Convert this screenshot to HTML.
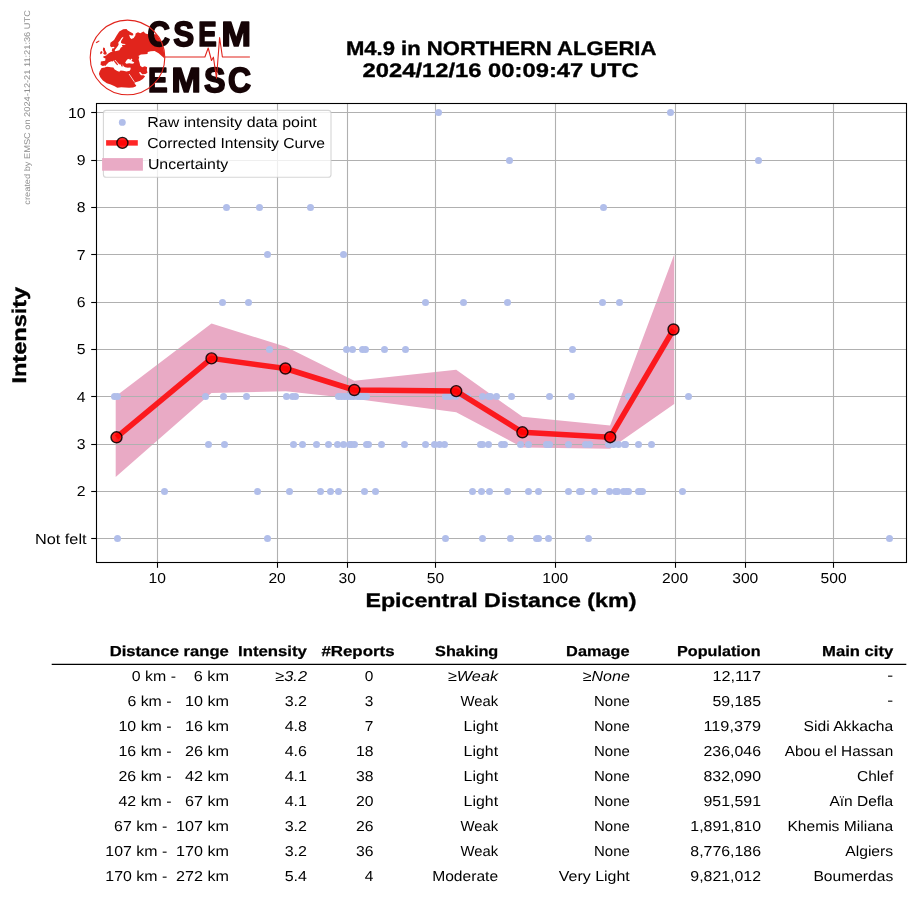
<!DOCTYPE html>
<html><head><meta charset="utf-8"><title>M4.9 in NORTHERN ALGERIA</title>
<style>html,body{margin:0;padding:0;background:#fff}svg{display:block;will-change:transform}</style></head>
<body>
<svg width="915" height="905" viewBox="0 0 915 905" font-family="'Liberation Sans', sans-serif" text-rendering="geometricPrecision">
<rect width="915" height="905" fill="#fff"/>
<polygon fill="#e9aac5" points="115.7,396.3 211.5,323.6 285.8,346.7 354.3,380.7 456.2,369.7 522.5,416.8 610.1,425.5 674.2,254.5 674.2,404 610.1,448.7 522.5,447.5 456.2,412.3 354.3,398.8 285.8,391.2 211.5,393 115.7,477.0"/>
<g stroke="#b0b0b0" stroke-width="1.1">
<line x1="157.5" y1="103.5" x2="157.5" y2="562.5"/>
<line x1="277.5" y1="103.5" x2="277.5" y2="562.5"/>
<line x1="347.5" y1="103.5" x2="347.5" y2="562.5"/>
<line x1="435.5" y1="103.5" x2="435.5" y2="562.5"/>
<line x1="555.5" y1="103.5" x2="555.5" y2="562.5"/>
<line x1="675.5" y1="103.5" x2="675.5" y2="562.5"/>
<line x1="745.5" y1="103.5" x2="745.5" y2="562.5"/>
<line x1="833.5" y1="103.5" x2="833.5" y2="562.5"/>
<line x1="96.5" y1="538.5" x2="906.5" y2="538.5"/>
<line x1="96.5" y1="491.5" x2="906.5" y2="491.5"/>
<line x1="96.5" y1="444.5" x2="906.5" y2="444.5"/>
<line x1="96.5" y1="396.5" x2="906.5" y2="396.5"/>
<line x1="96.5" y1="349.5" x2="906.5" y2="349.5"/>
<line x1="96.5" y1="302.5" x2="906.5" y2="302.5"/>
<line x1="96.5" y1="254.5" x2="906.5" y2="254.5"/>
<line x1="96.5" y1="207.5" x2="906.5" y2="207.5"/>
<line x1="96.5" y1="160.5" x2="906.5" y2="160.5"/>
<line x1="96.5" y1="112.5" x2="906.5" y2="112.5"/>
</g>
<g fill="#b1beea">
<circle cx="438.5" cy="112.5" r="3.5"/>
<circle cx="670.5" cy="112.5" r="3.5"/>
<circle cx="509.5" cy="160.5" r="3.5"/>
<circle cx="758.5" cy="160.5" r="3.5"/>
<circle cx="226.5" cy="207.5" r="3.5"/>
<circle cx="259.5" cy="207.5" r="3.5"/>
<circle cx="310.5" cy="207.5" r="3.5"/>
<circle cx="603.5" cy="207.5" r="3.5"/>
<circle cx="267.5" cy="254.5" r="3.5"/>
<circle cx="343.5" cy="254.5" r="3.5"/>
<circle cx="222.5" cy="302.5" r="3.5"/>
<circle cx="248.5" cy="302.5" r="3.5"/>
<circle cx="425.5" cy="302.5" r="3.5"/>
<circle cx="463.5" cy="302.5" r="3.5"/>
<circle cx="507.5" cy="302.5" r="3.5"/>
<circle cx="602.5" cy="302.5" r="3.5"/>
<circle cx="619.5" cy="302.5" r="3.5"/>
<circle cx="269.5" cy="349.5" r="3.5"/>
<circle cx="346.5" cy="349.5" r="3.5"/>
<circle cx="352.5" cy="349.5" r="3.5"/>
<circle cx="362.5" cy="349.5" r="3.5"/>
<circle cx="365.5" cy="349.5" r="3.5"/>
<circle cx="384.5" cy="349.5" r="3.5"/>
<circle cx="405.5" cy="349.5" r="3.5"/>
<circle cx="572.5" cy="349.5" r="3.5"/>
<circle cx="114.5" cy="396.5" r="3.5"/>
<circle cx="117.5" cy="396.5" r="3.5"/>
<circle cx="205.5" cy="396.5" r="3.5"/>
<circle cx="223.5" cy="396.5" r="3.5"/>
<circle cx="246.5" cy="396.5" r="3.5"/>
<circle cx="286.5" cy="396.5" r="3.5"/>
<circle cx="292.5" cy="396.5" r="3.5"/>
<circle cx="295.5" cy="396.5" r="3.5"/>
<circle cx="338.5" cy="396.5" r="3.5"/>
<circle cx="341.5" cy="396.5" r="3.5"/>
<circle cx="344.5" cy="396.5" r="3.5"/>
<circle cx="347.5" cy="396.5" r="3.5"/>
<circle cx="350.5" cy="396.5" r="3.5"/>
<circle cx="353.5" cy="396.5" r="3.5"/>
<circle cx="357.5" cy="396.5" r="3.5"/>
<circle cx="360.5" cy="396.5" r="3.5"/>
<circle cx="363.5" cy="396.5" r="3.5"/>
<circle cx="366.5" cy="396.5" r="3.5"/>
<circle cx="445.5" cy="396.5" r="3.5"/>
<circle cx="449.5" cy="396.5" r="3.5"/>
<circle cx="455.5" cy="396.5" r="3.5"/>
<circle cx="463.5" cy="396.5" r="3.5"/>
<circle cx="467.5" cy="396.5" r="3.5"/>
<circle cx="482.5" cy="396.5" r="3.5"/>
<circle cx="488.5" cy="396.5" r="3.5"/>
<circle cx="490.5" cy="396.5" r="3.5"/>
<circle cx="496.5" cy="396.5" r="3.5"/>
<circle cx="511.5" cy="396.5" r="3.5"/>
<circle cx="549.5" cy="396.5" r="3.5"/>
<circle cx="571.5" cy="396.5" r="3.5"/>
<circle cx="628.5" cy="396.5" r="3.5"/>
<circle cx="688.5" cy="396.5" r="3.5"/>
<circle cx="208.5" cy="444.5" r="3.5"/>
<circle cx="224.5" cy="444.5" r="3.5"/>
<circle cx="293.5" cy="444.5" r="3.5"/>
<circle cx="302.5" cy="444.5" r="3.5"/>
<circle cx="316.5" cy="444.5" r="3.5"/>
<circle cx="328.5" cy="444.5" r="3.5"/>
<circle cx="337.5" cy="444.5" r="3.5"/>
<circle cx="343.5" cy="444.5" r="3.5"/>
<circle cx="349.5" cy="444.5" r="3.5"/>
<circle cx="351.5" cy="444.5" r="3.5"/>
<circle cx="354.5" cy="444.5" r="3.5"/>
<circle cx="366.5" cy="444.5" r="3.5"/>
<circle cx="368.5" cy="444.5" r="3.5"/>
<circle cx="381.5" cy="444.5" r="3.5"/>
<circle cx="404.5" cy="444.5" r="3.5"/>
<circle cx="425.5" cy="444.5" r="3.5"/>
<circle cx="434.5" cy="444.5" r="3.5"/>
<circle cx="439.5" cy="444.5" r="3.5"/>
<circle cx="444.5" cy="444.5" r="3.5"/>
<circle cx="480.5" cy="444.5" r="3.5"/>
<circle cx="482.5" cy="444.5" r="3.5"/>
<circle cx="488.5" cy="444.5" r="3.5"/>
<circle cx="501.5" cy="444.5" r="3.5"/>
<circle cx="504.5" cy="444.5" r="3.5"/>
<circle cx="520.5" cy="444.5" r="3.5"/>
<circle cx="528.5" cy="444.5" r="3.5"/>
<circle cx="546.5" cy="444.5" r="3.5"/>
<circle cx="549.5" cy="444.5" r="3.5"/>
<circle cx="568.5" cy="444.5" r="3.5"/>
<circle cx="585.5" cy="444.5" r="3.5"/>
<circle cx="589.5" cy="444.5" r="3.5"/>
<circle cx="608.5" cy="444.5" r="3.5"/>
<circle cx="613.5" cy="444.5" r="3.5"/>
<circle cx="618.5" cy="444.5" r="3.5"/>
<circle cx="624.5" cy="444.5" r="3.5"/>
<circle cx="625.5" cy="444.5" r="3.5"/>
<circle cx="638.5" cy="444.5" r="3.5"/>
<circle cx="651.5" cy="444.5" r="3.5"/>
<circle cx="164.5" cy="491.5" r="3.5"/>
<circle cx="257.5" cy="491.5" r="3.5"/>
<circle cx="289.5" cy="491.5" r="3.5"/>
<circle cx="320.5" cy="491.5" r="3.5"/>
<circle cx="330.5" cy="491.5" r="3.5"/>
<circle cx="338.5" cy="491.5" r="3.5"/>
<circle cx="364.5" cy="491.5" r="3.5"/>
<circle cx="375.5" cy="491.5" r="3.5"/>
<circle cx="472.5" cy="491.5" r="3.5"/>
<circle cx="481.5" cy="491.5" r="3.5"/>
<circle cx="489.5" cy="491.5" r="3.5"/>
<circle cx="507.5" cy="491.5" r="3.5"/>
<circle cx="528.5" cy="491.5" r="3.5"/>
<circle cx="538.5" cy="491.5" r="3.5"/>
<circle cx="568.5" cy="491.5" r="3.5"/>
<circle cx="579.5" cy="491.5" r="3.5"/>
<circle cx="581.5" cy="491.5" r="3.5"/>
<circle cx="594.5" cy="491.5" r="3.5"/>
<circle cx="609.5" cy="491.5" r="3.5"/>
<circle cx="615.5" cy="491.5" r="3.5"/>
<circle cx="617.5" cy="491.5" r="3.5"/>
<circle cx="623.5" cy="491.5" r="3.5"/>
<circle cx="626.5" cy="491.5" r="3.5"/>
<circle cx="628.5" cy="491.5" r="3.5"/>
<circle cx="638.5" cy="491.5" r="3.5"/>
<circle cx="640.5" cy="491.5" r="3.5"/>
<circle cx="642.5" cy="491.5" r="3.5"/>
<circle cx="682.5" cy="491.5" r="3.5"/>
<circle cx="117.5" cy="538.5" r="3.5"/>
<circle cx="267.5" cy="538.5" r="3.5"/>
<circle cx="445.5" cy="538.5" r="3.5"/>
<circle cx="482.5" cy="538.5" r="3.5"/>
<circle cx="510.5" cy="538.5" r="3.5"/>
<circle cx="536.5" cy="538.5" r="3.5"/>
<circle cx="538.5" cy="538.5" r="3.5"/>
<circle cx="548.5" cy="538.5" r="3.5"/>
<circle cx="588.5" cy="538.5" r="3.5"/>
<circle cx="889.5" cy="538.5" r="3.5"/>
</g>
<polyline fill="none" stroke="#ff0000" stroke-opacity="0.85" stroke-width="5.5" stroke-linejoin="round" points="116.5,437.3 211.5,358.4 285.4,368.5 354.3,390.0 456.2,391.1 522.4,432.3 610.2,437.2 673.5,329.5"/>
<circle cx="116.5" cy="437.3" r="5.5" fill="#ff0000" fill-opacity="0.85" stroke="#000" stroke-opacity="0.85" stroke-width="1.4"/>
<circle cx="211.5" cy="358.4" r="5.5" fill="#ff0000" fill-opacity="0.85" stroke="#000" stroke-opacity="0.85" stroke-width="1.4"/>
<circle cx="285.4" cy="368.5" r="5.5" fill="#ff0000" fill-opacity="0.85" stroke="#000" stroke-opacity="0.85" stroke-width="1.4"/>
<circle cx="354.3" cy="390.0" r="5.5" fill="#ff0000" fill-opacity="0.85" stroke="#000" stroke-opacity="0.85" stroke-width="1.4"/>
<circle cx="456.2" cy="391.1" r="5.5" fill="#ff0000" fill-opacity="0.85" stroke="#000" stroke-opacity="0.85" stroke-width="1.4"/>
<circle cx="522.4" cy="432.3" r="5.5" fill="#ff0000" fill-opacity="0.85" stroke="#000" stroke-opacity="0.85" stroke-width="1.4"/>
<circle cx="610.2" cy="437.2" r="5.5" fill="#ff0000" fill-opacity="0.85" stroke="#000" stroke-opacity="0.85" stroke-width="1.4"/>
<circle cx="673.5" cy="329.5" r="5.5" fill="#ff0000" fill-opacity="0.85" stroke="#000" stroke-opacity="0.85" stroke-width="1.4"/>
<rect x="96.5" y="103.5" width="810.0" height="459.0" fill="none" stroke="#000" stroke-width="1.1"/>
<g stroke="#000" stroke-width="1.1">
<line x1="157.5" y1="562.5" x2="157.5" y2="567.8"/>
<line x1="277.5" y1="562.5" x2="277.5" y2="567.8"/>
<line x1="347.5" y1="562.5" x2="347.5" y2="567.8"/>
<line x1="435.5" y1="562.5" x2="435.5" y2="567.8"/>
<line x1="555.5" y1="562.5" x2="555.5" y2="567.8"/>
<line x1="675.5" y1="562.5" x2="675.5" y2="567.8"/>
<line x1="745.5" y1="562.5" x2="745.5" y2="567.8"/>
<line x1="833.5" y1="562.5" x2="833.5" y2="567.8"/>
<line x1="91.2" y1="538.5" x2="96.5" y2="538.5"/>
<line x1="91.2" y1="491.5" x2="96.5" y2="491.5"/>
<line x1="91.2" y1="444.5" x2="96.5" y2="444.5"/>
<line x1="91.2" y1="396.5" x2="96.5" y2="396.5"/>
<line x1="91.2" y1="349.5" x2="96.5" y2="349.5"/>
<line x1="91.2" y1="302.5" x2="96.5" y2="302.5"/>
<line x1="91.2" y1="254.5" x2="96.5" y2="254.5"/>
<line x1="91.2" y1="207.5" x2="96.5" y2="207.5"/>
<line x1="91.2" y1="160.5" x2="96.5" y2="160.5"/>
<line x1="91.2" y1="112.5" x2="96.5" y2="112.5"/>
</g>
<text x="148.6" y="582.9" font-size="14.4" text-anchor="start" font-weight="normal" font-style="normal" fill="#000" textLength="17.4" lengthAdjust="spacingAndGlyphs">10</text>
<text x="268.4" y="582.9" font-size="14.4" text-anchor="start" font-weight="normal" font-style="normal" fill="#000" textLength="17.4" lengthAdjust="spacingAndGlyphs">20</text>
<text x="338.5" y="582.9" font-size="14.4" text-anchor="start" font-weight="normal" font-style="normal" fill="#000" textLength="17.4" lengthAdjust="spacingAndGlyphs">30</text>
<text x="426.8" y="582.9" font-size="14.4" text-anchor="start" font-weight="normal" font-style="normal" fill="#000" textLength="17.4" lengthAdjust="spacingAndGlyphs">50</text>
<text x="542.2" y="582.9" font-size="14.4" text-anchor="start" font-weight="normal" font-style="normal" fill="#000" textLength="26.1" lengthAdjust="spacingAndGlyphs">100</text>
<text x="662.1" y="582.9" font-size="14.4" text-anchor="start" font-weight="normal" font-style="normal" fill="#000" textLength="26.1" lengthAdjust="spacingAndGlyphs">200</text>
<text x="732.2" y="582.9" font-size="14.4" text-anchor="start" font-weight="normal" font-style="normal" fill="#000" textLength="26.1" lengthAdjust="spacingAndGlyphs">300</text>
<text x="820.5" y="582.9" font-size="14.4" text-anchor="start" font-weight="normal" font-style="normal" fill="#000" textLength="26.1" lengthAdjust="spacingAndGlyphs">500</text>
<text x="76.8" y="496.3" font-size="14.4" text-anchor="start" font-weight="normal" font-style="normal" fill="#000" textLength="8.8" lengthAdjust="spacingAndGlyphs">2</text>
<text x="76.8" y="449.0" font-size="14.4" text-anchor="start" font-weight="normal" font-style="normal" fill="#000" textLength="8.8" lengthAdjust="spacingAndGlyphs">3</text>
<text x="76.8" y="401.7" font-size="14.4" text-anchor="start" font-weight="normal" font-style="normal" fill="#000" textLength="8.8" lengthAdjust="spacingAndGlyphs">4</text>
<text x="76.8" y="354.3" font-size="14.4" text-anchor="start" font-weight="normal" font-style="normal" fill="#000" textLength="8.8" lengthAdjust="spacingAndGlyphs">5</text>
<text x="76.8" y="307.0" font-size="14.4" text-anchor="start" font-weight="normal" font-style="normal" fill="#000" textLength="8.8" lengthAdjust="spacingAndGlyphs">6</text>
<text x="76.8" y="259.7" font-size="14.4" text-anchor="start" font-weight="normal" font-style="normal" fill="#000" textLength="8.8" lengthAdjust="spacingAndGlyphs">7</text>
<text x="76.8" y="212.4" font-size="14.4" text-anchor="start" font-weight="normal" font-style="normal" fill="#000" textLength="8.8" lengthAdjust="spacingAndGlyphs">8</text>
<text x="76.8" y="165.0" font-size="14.4" text-anchor="start" font-weight="normal" font-style="normal" fill="#000" textLength="8.8" lengthAdjust="spacingAndGlyphs">9</text>
<text x="67.9" y="117.7" font-size="14.4" text-anchor="start" font-weight="normal" font-style="normal" fill="#000" textLength="17.7" lengthAdjust="spacingAndGlyphs">10</text>
<text x="34.9" y="543.9" font-size="14.4" text-anchor="start" font-weight="normal" font-style="normal" fill="#000" textLength="51.7" lengthAdjust="spacingAndGlyphs">Not felt</text>
<text x="365.4" y="607.2" font-size="19.6" text-anchor="start" font-weight="bold" font-style="normal" fill="#000" textLength="271.0" lengthAdjust="spacingAndGlyphs" stroke="#000" stroke-width="0.35">Epicentral Distance (km)</text>
<text transform="translate(26.4,383.6) rotate(-90)" font-size="19.8" font-weight="bold" stroke="#000" stroke-width="0.35" textLength="96.8" lengthAdjust="spacingAndGlyphs">Intensity</text>
<text x="345.9" y="54.9" font-size="19.6" text-anchor="start" font-weight="bold" font-style="normal" fill="#000" textLength="310.5" lengthAdjust="spacingAndGlyphs" stroke="#000" stroke-width="0.35">M4.9 in NORTHERN ALGERIA</text>
<text x="362.5" y="77.3" font-size="19.6" text-anchor="start" font-weight="bold" font-style="normal" fill="#000" textLength="276.2" lengthAdjust="spacingAndGlyphs" stroke="#000" stroke-width="0.35">2024/12/16 00:09:47 UTC</text>
<text transform="translate(29.5,204.7) rotate(-90)" font-size="8.3" fill="#8c8c8c" textLength="194.5" lengthAdjust="spacingAndGlyphs">created by EMSC on 2024-12-21 11:21:36 UTC</text>
<rect x="103.4" y="110.4" width="227.6" height="66.9" rx="2.8" fill="#fff" fill-opacity="0.8" stroke="#cccccc" stroke-opacity="0.8" stroke-width="1.1"/>
<circle cx="122.3" cy="122.4" r="3.45" fill="#b1beea"/>
<line x1="106.1" y1="142.9" x2="137.8" y2="142.9" stroke="#ff0000" stroke-opacity="0.85" stroke-width="5.5"/>
<circle cx="122.4" cy="142.9" r="5.5" fill="#ff0000" fill-opacity="0.85" stroke="#000" stroke-opacity="0.85" stroke-width="1.4"/>
<rect x="102.1" y="158.1" width="40.8" height="12.6" fill="#e9aac5"/>
<text x="147.3" y="127.3" font-size="14.4" text-anchor="start" font-weight="normal" font-style="normal" fill="#000" textLength="169.5" lengthAdjust="spacingAndGlyphs">Raw intensity data point</text>
<text x="147.3" y="148.3" font-size="14.4" text-anchor="start" font-weight="normal" font-style="normal" fill="#000" textLength="177.7" lengthAdjust="spacingAndGlyphs">Corrected Intensity Curve</text>
<text x="147.9" y="169.1" font-size="14.4" text-anchor="start" font-weight="normal" font-style="normal" fill="#000" textLength="80.4" lengthAdjust="spacingAndGlyphs">Uncertainty</text>
<line x1="51.7" y1="664.4" x2="906.3" y2="664.4" stroke="#000" stroke-width="1.15"/>
<text x="109.7" y="656.0" font-size="14.4" text-anchor="start" font-weight="bold" font-style="normal" fill="#000" textLength="119.2" lengthAdjust="spacingAndGlyphs" stroke="#000" stroke-width="0.25">Distance range</text>
<text x="238.1" y="656.0" font-size="14.4" text-anchor="start" font-weight="bold" font-style="normal" fill="#000" textLength="68.8" lengthAdjust="spacingAndGlyphs" stroke="#000" stroke-width="0.25">Intensity</text>
<text x="321.4" y="656.0" font-size="14.4" text-anchor="start" font-weight="bold" font-style="normal" fill="#000" textLength="73.2" lengthAdjust="spacingAndGlyphs" stroke="#000" stroke-width="0.25">#Reports</text>
<text x="435.1" y="656.0" font-size="14.4" text-anchor="start" font-weight="bold" font-style="normal" fill="#000" textLength="63.2" lengthAdjust="spacingAndGlyphs" stroke="#000" stroke-width="0.25">Shaking</text>
<text x="566.1" y="656.0" font-size="14.4" text-anchor="start" font-weight="bold" font-style="normal" fill="#000" textLength="63.5" lengthAdjust="spacingAndGlyphs" stroke="#000" stroke-width="0.25">Damage</text>
<text x="677.1" y="656.0" font-size="14.4" text-anchor="start" font-weight="bold" font-style="normal" fill="#000" textLength="83.5" lengthAdjust="spacingAndGlyphs" stroke="#000" stroke-width="0.25">Population</text>
<text x="822.1" y="656.0" font-size="14.4" text-anchor="start" font-weight="bold" font-style="normal" fill="#000" textLength="71.2" lengthAdjust="spacingAndGlyphs" stroke="#000" stroke-width="0.25">Main city</text>
<text x="131.8" y="681.0" font-size="14.4" text-anchor="start" font-weight="normal" font-style="normal" fill="#000" textLength="44.2" lengthAdjust="spacingAndGlyphs">0 km -</text>
<text x="193.8" y="681.0" font-size="14.4" text-anchor="start" font-weight="normal" font-style="normal" fill="#000" textLength="35.2" lengthAdjust="spacingAndGlyphs">6 km</text>
<text x="275.3" y="681.0" font-size="14.4" text-anchor="start" font-weight="normal" font-style="italic" fill="#000" textLength="31.7" lengthAdjust="spacingAndGlyphs">≥3.2</text>
<text x="364.8" y="681.0" font-size="14.4" text-anchor="start" font-weight="normal" font-style="normal" fill="#000" textLength="8.6" lengthAdjust="spacingAndGlyphs">0</text>
<text x="447.9" y="681.0" font-size="14.4" text-anchor="start" font-weight="normal" font-style="italic" fill="#000" textLength="50.2" lengthAdjust="spacingAndGlyphs">≥Weak</text>
<text x="582.8" y="681.0" font-size="14.4" text-anchor="start" font-weight="normal" font-style="italic" fill="#000" textLength="47.0" lengthAdjust="spacingAndGlyphs">≥None</text>
<text x="712.4" y="681.0" font-size="14.4" text-anchor="start" font-weight="normal" font-style="normal" fill="#000" textLength="48.6" lengthAdjust="spacingAndGlyphs">12,117</text>
<text x="887.3" y="680.2" font-size="14.4" text-anchor="start" font-weight="normal" font-style="normal" fill="#000" textLength="5.9" lengthAdjust="spacingAndGlyphs">-</text>
<text x="127.4" y="706.0" font-size="14.4" text-anchor="start" font-weight="normal" font-style="normal" fill="#000" textLength="44.2" lengthAdjust="spacingAndGlyphs">6 km -</text>
<text x="184.9" y="706.0" font-size="14.4" text-anchor="start" font-weight="normal" font-style="normal" fill="#000" textLength="44.1" lengthAdjust="spacingAndGlyphs">10 km</text>
<text x="284.7" y="706.0" font-size="14.4" text-anchor="start" font-weight="normal" font-style="normal" fill="#000" textLength="22.3" lengthAdjust="spacingAndGlyphs">3.2</text>
<text x="364.8" y="706.0" font-size="14.4" text-anchor="start" font-weight="normal" font-style="normal" fill="#000" textLength="8.6" lengthAdjust="spacingAndGlyphs">3</text>
<text x="460.4" y="706.0" font-size="14.4" text-anchor="start" font-weight="normal" font-style="normal" fill="#000" textLength="37.7" lengthAdjust="spacingAndGlyphs">Weak</text>
<text x="594.0" y="706.0" font-size="14.4" text-anchor="start" font-weight="normal" font-style="normal" fill="#000" textLength="35.8" lengthAdjust="spacingAndGlyphs">None</text>
<text x="712.4" y="706.0" font-size="14.4" text-anchor="start" font-weight="normal" font-style="normal" fill="#000" textLength="48.6" lengthAdjust="spacingAndGlyphs">59,185</text>
<text x="887.3" y="705.2" font-size="14.4" text-anchor="start" font-weight="normal" font-style="normal" fill="#000" textLength="5.9" lengthAdjust="spacingAndGlyphs">-</text>
<text x="118.5" y="731.0" font-size="14.4" text-anchor="start" font-weight="normal" font-style="normal" fill="#000" textLength="53.1" lengthAdjust="spacingAndGlyphs">10 km -</text>
<text x="184.9" y="731.0" font-size="14.4" text-anchor="start" font-weight="normal" font-style="normal" fill="#000" textLength="44.1" lengthAdjust="spacingAndGlyphs">16 km</text>
<text x="284.7" y="731.0" font-size="14.4" text-anchor="start" font-weight="normal" font-style="normal" fill="#000" textLength="22.3" lengthAdjust="spacingAndGlyphs">4.8</text>
<text x="364.8" y="731.0" font-size="14.4" text-anchor="start" font-weight="normal" font-style="normal" fill="#000" textLength="8.6" lengthAdjust="spacingAndGlyphs">7</text>
<text x="463.6" y="731.0" font-size="14.4" text-anchor="start" font-weight="normal" font-style="normal" fill="#000" textLength="34.5" lengthAdjust="spacingAndGlyphs">Light</text>
<text x="594.0" y="731.0" font-size="14.4" text-anchor="start" font-weight="normal" font-style="normal" fill="#000" textLength="35.8" lengthAdjust="spacingAndGlyphs">None</text>
<text x="703.5" y="731.0" font-size="14.4" text-anchor="start" font-weight="normal" font-style="normal" fill="#000" textLength="57.5" lengthAdjust="spacingAndGlyphs">119,379</text>
<text x="803.6" y="731.0" font-size="14.4" text-anchor="start" font-weight="normal" font-style="normal" fill="#000" textLength="89.6" lengthAdjust="spacingAndGlyphs">Sidi Akkacha</text>
<text x="118.5" y="756.0" font-size="14.4" text-anchor="start" font-weight="normal" font-style="normal" fill="#000" textLength="53.1" lengthAdjust="spacingAndGlyphs">16 km -</text>
<text x="184.9" y="756.0" font-size="14.4" text-anchor="start" font-weight="normal" font-style="normal" fill="#000" textLength="44.1" lengthAdjust="spacingAndGlyphs">26 km</text>
<text x="284.7" y="756.0" font-size="14.4" text-anchor="start" font-weight="normal" font-style="normal" fill="#000" textLength="22.3" lengthAdjust="spacingAndGlyphs">4.6</text>
<text x="355.9" y="756.0" font-size="14.4" text-anchor="start" font-weight="normal" font-style="normal" fill="#000" textLength="17.5" lengthAdjust="spacingAndGlyphs">18</text>
<text x="463.6" y="756.0" font-size="14.4" text-anchor="start" font-weight="normal" font-style="normal" fill="#000" textLength="34.5" lengthAdjust="spacingAndGlyphs">Light</text>
<text x="594.0" y="756.0" font-size="14.4" text-anchor="start" font-weight="normal" font-style="normal" fill="#000" textLength="35.8" lengthAdjust="spacingAndGlyphs">None</text>
<text x="703.5" y="756.0" font-size="14.4" text-anchor="start" font-weight="normal" font-style="normal" fill="#000" textLength="57.5" lengthAdjust="spacingAndGlyphs">236,046</text>
<text x="784.7" y="756.0" font-size="14.4" text-anchor="start" font-weight="normal" font-style="normal" fill="#000" textLength="108.5" lengthAdjust="spacingAndGlyphs">Abou el Hassan</text>
<text x="118.5" y="781.0" font-size="14.4" text-anchor="start" font-weight="normal" font-style="normal" fill="#000" textLength="53.1" lengthAdjust="spacingAndGlyphs">26 km -</text>
<text x="184.9" y="781.0" font-size="14.4" text-anchor="start" font-weight="normal" font-style="normal" fill="#000" textLength="44.1" lengthAdjust="spacingAndGlyphs">42 km</text>
<text x="284.7" y="781.0" font-size="14.4" text-anchor="start" font-weight="normal" font-style="normal" fill="#000" textLength="22.3" lengthAdjust="spacingAndGlyphs">4.1</text>
<text x="355.9" y="781.0" font-size="14.4" text-anchor="start" font-weight="normal" font-style="normal" fill="#000" textLength="17.5" lengthAdjust="spacingAndGlyphs">38</text>
<text x="463.6" y="781.0" font-size="14.4" text-anchor="start" font-weight="normal" font-style="normal" fill="#000" textLength="34.5" lengthAdjust="spacingAndGlyphs">Light</text>
<text x="594.0" y="781.0" font-size="14.4" text-anchor="start" font-weight="normal" font-style="normal" fill="#000" textLength="35.8" lengthAdjust="spacingAndGlyphs">None</text>
<text x="703.5" y="781.0" font-size="14.4" text-anchor="start" font-weight="normal" font-style="normal" fill="#000" textLength="57.5" lengthAdjust="spacingAndGlyphs">832,090</text>
<text x="857.0" y="781.0" font-size="14.4" text-anchor="start" font-weight="normal" font-style="normal" fill="#000" textLength="36.2" lengthAdjust="spacingAndGlyphs">Chlef</text>
<text x="118.5" y="806.0" font-size="14.4" text-anchor="start" font-weight="normal" font-style="normal" fill="#000" textLength="53.1" lengthAdjust="spacingAndGlyphs">42 km -</text>
<text x="184.9" y="806.0" font-size="14.4" text-anchor="start" font-weight="normal" font-style="normal" fill="#000" textLength="44.1" lengthAdjust="spacingAndGlyphs">67 km</text>
<text x="284.7" y="806.0" font-size="14.4" text-anchor="start" font-weight="normal" font-style="normal" fill="#000" textLength="22.3" lengthAdjust="spacingAndGlyphs">4.1</text>
<text x="355.9" y="806.0" font-size="14.4" text-anchor="start" font-weight="normal" font-style="normal" fill="#000" textLength="17.5" lengthAdjust="spacingAndGlyphs">20</text>
<text x="463.6" y="806.0" font-size="14.4" text-anchor="start" font-weight="normal" font-style="normal" fill="#000" textLength="34.5" lengthAdjust="spacingAndGlyphs">Light</text>
<text x="594.0" y="806.0" font-size="14.4" text-anchor="start" font-weight="normal" font-style="normal" fill="#000" textLength="35.8" lengthAdjust="spacingAndGlyphs">None</text>
<text x="703.5" y="806.0" font-size="14.4" text-anchor="start" font-weight="normal" font-style="normal" fill="#000" textLength="57.5" lengthAdjust="spacingAndGlyphs">951,591</text>
<text x="829.4" y="806.0" font-size="14.4" text-anchor="start" font-weight="normal" font-style="normal" fill="#000" textLength="63.8" lengthAdjust="spacingAndGlyphs">Aïn Defla</text>
<text x="114.1" y="831.0" font-size="14.4" text-anchor="start" font-weight="normal" font-style="normal" fill="#000" textLength="53.1" lengthAdjust="spacingAndGlyphs">67 km -</text>
<text x="176.1" y="831.0" font-size="14.4" text-anchor="start" font-weight="normal" font-style="normal" fill="#000" textLength="52.9" lengthAdjust="spacingAndGlyphs">107 km</text>
<text x="284.7" y="831.0" font-size="14.4" text-anchor="start" font-weight="normal" font-style="normal" fill="#000" textLength="22.3" lengthAdjust="spacingAndGlyphs">3.2</text>
<text x="355.9" y="831.0" font-size="14.4" text-anchor="start" font-weight="normal" font-style="normal" fill="#000" textLength="17.5" lengthAdjust="spacingAndGlyphs">26</text>
<text x="460.4" y="831.0" font-size="14.4" text-anchor="start" font-weight="normal" font-style="normal" fill="#000" textLength="37.7" lengthAdjust="spacingAndGlyphs">Weak</text>
<text x="594.0" y="831.0" font-size="14.4" text-anchor="start" font-weight="normal" font-style="normal" fill="#000" textLength="35.8" lengthAdjust="spacingAndGlyphs">None</text>
<text x="690.3" y="831.0" font-size="14.4" text-anchor="start" font-weight="normal" font-style="normal" fill="#000" textLength="70.7" lengthAdjust="spacingAndGlyphs">1,891,810</text>
<text x="787.4" y="831.0" font-size="14.4" text-anchor="start" font-weight="normal" font-style="normal" fill="#000" textLength="105.8" lengthAdjust="spacingAndGlyphs">Khemis Miliana</text>
<text x="105.3" y="856.0" font-size="14.4" text-anchor="start" font-weight="normal" font-style="normal" fill="#000" textLength="61.9" lengthAdjust="spacingAndGlyphs">107 km -</text>
<text x="176.1" y="856.0" font-size="14.4" text-anchor="start" font-weight="normal" font-style="normal" fill="#000" textLength="52.9" lengthAdjust="spacingAndGlyphs">170 km</text>
<text x="284.7" y="856.0" font-size="14.4" text-anchor="start" font-weight="normal" font-style="normal" fill="#000" textLength="22.3" lengthAdjust="spacingAndGlyphs">3.2</text>
<text x="355.9" y="856.0" font-size="14.4" text-anchor="start" font-weight="normal" font-style="normal" fill="#000" textLength="17.5" lengthAdjust="spacingAndGlyphs">36</text>
<text x="460.4" y="856.0" font-size="14.4" text-anchor="start" font-weight="normal" font-style="normal" fill="#000" textLength="37.7" lengthAdjust="spacingAndGlyphs">Weak</text>
<text x="594.0" y="856.0" font-size="14.4" text-anchor="start" font-weight="normal" font-style="normal" fill="#000" textLength="35.8" lengthAdjust="spacingAndGlyphs">None</text>
<text x="690.3" y="856.0" font-size="14.4" text-anchor="start" font-weight="normal" font-style="normal" fill="#000" textLength="70.7" lengthAdjust="spacingAndGlyphs">8,776,186</text>
<text x="845.2" y="856.0" font-size="14.4" text-anchor="start" font-weight="normal" font-style="normal" fill="#000" textLength="48.0" lengthAdjust="spacingAndGlyphs">Algiers</text>
<text x="105.3" y="881.0" font-size="14.4" text-anchor="start" font-weight="normal" font-style="normal" fill="#000" textLength="61.9" lengthAdjust="spacingAndGlyphs">170 km -</text>
<text x="176.1" y="881.0" font-size="14.4" text-anchor="start" font-weight="normal" font-style="normal" fill="#000" textLength="52.9" lengthAdjust="spacingAndGlyphs">272 km</text>
<text x="284.7" y="881.0" font-size="14.4" text-anchor="start" font-weight="normal" font-style="normal" fill="#000" textLength="22.3" lengthAdjust="spacingAndGlyphs">5.4</text>
<text x="364.8" y="881.0" font-size="14.4" text-anchor="start" font-weight="normal" font-style="normal" fill="#000" textLength="8.6" lengthAdjust="spacingAndGlyphs">4</text>
<text x="432.2" y="881.0" font-size="14.4" text-anchor="start" font-weight="normal" font-style="normal" fill="#000" textLength="65.9" lengthAdjust="spacingAndGlyphs">Moderate</text>
<text x="558.8" y="881.0" font-size="14.4" text-anchor="start" font-weight="normal" font-style="normal" fill="#000" textLength="71.0" lengthAdjust="spacingAndGlyphs">Very Light</text>
<text x="690.3" y="881.0" font-size="14.4" text-anchor="start" font-weight="normal" font-style="normal" fill="#000" textLength="70.7" lengthAdjust="spacingAndGlyphs">9,821,012</text>
<text x="813.4" y="881.0" font-size="14.4" text-anchor="start" font-weight="normal" font-style="normal" fill="#000" textLength="79.8" lengthAdjust="spacingAndGlyphs">Boumerdas</text>
<g id="logo">
<defs><clipPath id="gc"><circle cx="127.5" cy="57.4" r="37.0"/></clipPath></defs>
<g clip-path="url(#gc)">
<polygon fill="#e1241c" points="110.41,42.70 114.02,40.08 116.64,35.49 119.26,31.56 123.20,29.26 126.48,28.93 127.79,30.57 130.41,31.89 133.03,33.52 133.36,35.16 131.72,35.49 129.10,34.84 130.08,37.79 131.39,39.10 133.69,38.11 135.33,35.49 135.66,33.52 137.95,32.21 140.25,33.20 143.52,31.56 145.49,33.52 148.11,34.18 157.95,34.18 167.13,51.23 166.00,59.50 164.80,58.70 162.00,56.20 158.60,53.30 154.60,51.00 150.70,51.20 147.80,51.90 147.50,53.90 144.80,54.20 140.90,54.50 138.30,56.00 139.26,56.97 138.61,59.59 139.59,62.87 140.25,65.82 142.21,67.13 144.84,66.15 147.13,67.13 146.80,70.08 147.46,72.70 145.49,74.02 142.21,74.34 140.25,72.05 138.93,72.38 140.90,75.33 143.52,75.33 145.16,76.31 142.87,78.93 139.59,80.90 135.66,82.21 134.34,82.54 135.00,84.18 136.31,85.16 135.66,86.48 133.03,87.46 129.10,87.79 125.16,87.46 121.23,87.13 117.30,87.79 114.67,86.15 110.74,84.51 106.80,83.20 102.87,80.57 100.25,77.30 98.93,74.02 99.59,71.39 101.56,68.11 102.87,67.46 100.57,64.84 100.90,61.23 100.90,61.39 105.16,60.74 105.49,58.44 103.52,57.79 103.20,56.48 106.15,55.49 108.11,53.85 110.41,52.21 112.70,51.56 111.72,50.90 112.38,48.28 113.36,48.61 114.67,47.62 113.36,46.64 111.39,47.30 110.08,45.98"/>
<polygon fill="#e1241c" points="103.20,47.62 104.84,47.95 105.16,50.25 106.48,52.54 106.80,54.18 104.84,54.84 103.20,53.85 103.85,51.89 102.87,49.92"/>
<polygon fill="#e1241c" points="100.25,51.89 101.56,50.90 102.54,51.89 101.89,53.52 100.25,54.18"/>
<polygon fill="#e1241c" points="95.66,42.18 98.93,40.41 99.72,41.07 96.64,43.23"/>
<polygon fill="#fff" points="123.20,36.80 121.56,38.11 119.92,40.41 118.28,42.38 118.61,44.67 117.30,46.64 114.67,50.25 115.33,51.23 119.26,50.25 120.90,47.62 122.54,46.64 121.89,45.00 125.16,44.67 125.49,44.02 122.54,43.69 120.90,42.70 121.23,40.74 123.20,37.79"/>
<polygon fill="#fff" points="125.82,61.39 127.13,59.43 129.10,58.77 130.08,60.08 131.72,58.44 132.38,59.75 131.39,61.07 133.69,62.05 134.34,63.03 132.38,63.69 129.10,63.36 126.48,63.69 125.16,62.70"/>
<polygon fill="#fff" points="104.84,66.48 106.80,64.18 108.77,62.21 111.39,61.23 112.70,61.56 114.02,60.25 115.33,59.92 117.30,62.21 119.26,64.18 121.23,64.84 122.54,64.51 123.85,66.48 125.16,67.13 127.79,67.79 130.41,67.46 130.74,69.10 129.75,70.74 126.48,71.39 123.20,70.74 120.57,70.41 119.26,71.72 117.30,71.07 114.67,69.43 113.36,67.46 110.74,67.13 107.46,66.80 102.87,67.46"/>
<polygon fill="#fff" points="97.62,65.36 100.57,65.03 102.87,66.02 104.84,65.49 105.49,67.13 101.56,68.05 97.62,69.10"/>
<polygon fill="#e1241c" points="114.15,59.72 116.64,62.54 118.08,64.84 117.16,65.36 115.46,63.20 113.56,60.77"/>
<polygon fill="#e1241c" points="121.23,63.52 122.87,64.84 122.21,67.13 121.10,65.49"/>
<line x1="129.10" y1="74.02" x2="134.34" y2="81.89" stroke="#fff" stroke-width="0.8"/>
</g>
<text transform="translate(147.57,46.21) scale(0.8915,1.0008)" font-size="35.0" font-weight="bold" fill="#160406" stroke="#160406" stroke-width="1.7" stroke-linejoin="round">C</text>
<text transform="translate(173.35,46.21) scale(0.8966,1.0008)" font-size="35.0" font-weight="bold" fill="#160406" stroke="#160406" stroke-width="1.7" stroke-linejoin="round">S</text>
<text transform="translate(198.30,46.15) scale(0.7894,0.9967)" font-size="35.0" font-weight="bold" fill="#160406" stroke="#160406" stroke-width="1.7" stroke-linejoin="round">E</text>
<text transform="translate(221.39,46.15) scale(1.0093,0.9967)" font-size="35.0" font-weight="bold" fill="#160406" stroke="#160406" stroke-width="1.7" stroke-linejoin="round">M</text>
<text transform="translate(147.98,91.55) scale(0.8403,0.9967)" font-size="35.0" font-weight="bold" fill="#160406" stroke="#160406" stroke-width="1.7" stroke-linejoin="round">E</text>
<text transform="translate(171.50,91.55) scale(1.0052,0.9967)" font-size="35.0" font-weight="bold" fill="#160406" stroke="#160406" stroke-width="1.7" stroke-linejoin="round">M</text>
<text transform="translate(203.92,91.61) scale(0.9204,1.0008)" font-size="35.0" font-weight="bold" fill="#160406" stroke="#160406" stroke-width="1.7" stroke-linejoin="round">S</text>
<text transform="translate(228.04,91.61) scale(0.9133,1.0008)" font-size="35.0" font-weight="bold" fill="#160406" stroke="#160406" stroke-width="1.7" stroke-linejoin="round">C</text>
<circle cx="127.5" cy="57.4" r="37.3" fill="none" stroke="#e1241c" stroke-width="1.1"/>
<polyline fill="none" stroke="#e1241c" stroke-width="1.1" stroke-linejoin="round" points="164.8,57 204.9,57 208.2,48 211.5,60.5 213.4,57.2 216.5,78.2 219.6,37.5 222.4,57 249.9,57"/>
</g>
</svg>
</body></html>
